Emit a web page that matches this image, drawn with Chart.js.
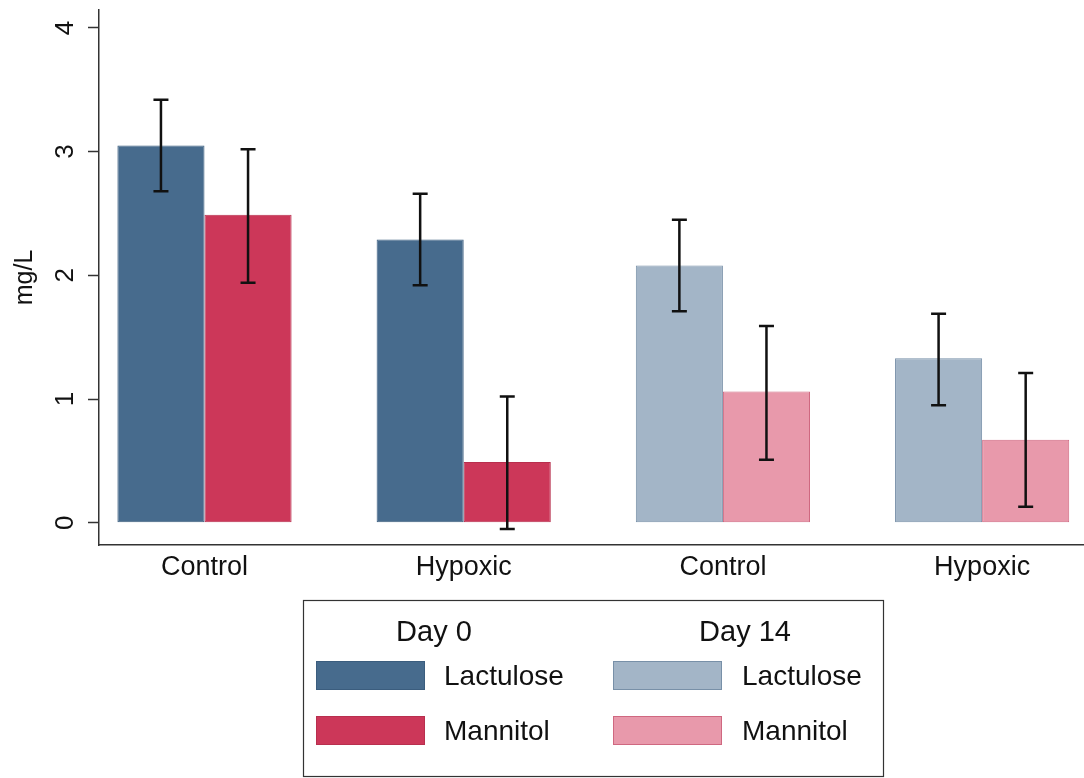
<!DOCTYPE html>
<html>
<head>
<meta charset="utf-8">
<script src="https://cdn.jsdelivr.net/npm/chart.js@4.4.1/dist/chart.umd.min.js"></script>
<style>
  html, body { margin: 0; padding: 0; background: #ffffff; }
  #wrap { width: 1084px; height: 778px; position: relative; }
</style>
</head>
<body>
<div id="wrap"><canvas id="c" width="1084" height="778"></canvas></div>
<script>
// ---- data ----
const categories = ['Control', 'Hypoxic', 'Control', 'Hypoxic'];
const groupDay = ['Day 0', 'Day 0', 'Day 14', 'Day 14'];
const seriesNames = ['Lactulose', 'Mannitol'];
const lactulose = [3.05, 2.29, 2.08, 1.33];
const lactuloseLow = [2.68, 1.92, 1.71, 0.95];
const lactuloseHigh = [3.42, 2.66, 2.45, 1.69];
const mannitol = [2.49, 0.49, 1.06, 0.67];
const mannitolLow = [1.94, -0.05, 0.51, 0.13];
const mannitolHigh = [3.02, 1.02, 1.59, 1.21];
const yTicks = [0, 1, 2, 3, 4];
const legendDays = ['Day 0', 'Day 14'];

// ---- styles ----
const FONT = '"Liberation Sans", Arial, Helvetica, sans-serif';
const palette = {
  'Day 0':  { Lactulose: ['#476b8d', '#3b5d7e'], Mannitol: ['#cc3759', '#b82f4e'] },
  'Day 14': { Lactulose: ['#a3b5c7', '#7890a8'], Mannitol: ['#e899ab', '#cf6880'] }
};

function makeDataset(name, values, lows, highs) {
  return {
    label: name,
    data: values.map((v, i) => ({ x: i, y: v })),
    lows: lows,
    highs: highs,
    backgroundColor: values.map((v, i) => palette[groupDay[i]][name][0]),
    borderColor: values.map((v, i) => palette[groupDay[i]][name][1]),
    borderWidth: 1,
    borderSkipped: false,
    categoryPercentage: 0.672,
    barPercentage: 1.0
  };
}

const errorBars = {
  id: 'errorBars',
  afterDatasetsDraw(chart) {
    const ctx = chart.ctx;
    const ys = chart.scales.y;
    ctx.save();
    ctx.strokeStyle = '#111';
    ctx.lineWidth = 2.5;
    chart.data.datasets.forEach((ds, di) => {
      const meta = chart.getDatasetMeta(di);
      meta.data.forEach((bar, i) => {
        const x = bar.x;
        const yl = ys.getPixelForValue(ds.lows[i]);
        const yh = ys.getPixelForValue(ds.highs[i]);
        const cap = 7.5;
        ctx.beginPath();
        ctx.moveTo(x, yl); ctx.lineTo(x, yh);
        ctx.moveTo(x - cap, yl); ctx.lineTo(x + cap, yl);
        ctx.moveTo(x - cap, yh); ctx.lineTo(x + cap, yh);
        ctx.stroke();
      });
    });
    ctx.restore();
  }
};

const customLegend = {
  id: 'customLegend',
  afterDraw(chart) {
    const ctx = chart.ctx;
    ctx.save();
    ctx.strokeStyle = '#333';
    ctx.lineWidth = 1.2;
    ctx.strokeRect(303.5, 600.5, 580, 176);
    const cols = [{ sw: 316, tx: 444, head: 434 }, { sw: 613, tx: 742, head: 745 }];
    const rows = [661, 716];
    ctx.font = '28px ' + FONT;
    ctx.textBaseline = 'middle';
    legendDays.forEach((day, ci) => {
      const c = cols[ci];
      ctx.textAlign = 'center';
      ctx.fillStyle = '#111';
      ctx.font = '29px ' + FONT;
      ctx.fillText(day, c.head, 633);
      ctx.font = '28px ' + FONT;
      seriesNames.forEach((name, ri) => {
        const col = palette[day][name];
        ctx.fillStyle = col[0];
        ctx.fillRect(c.sw, rows[ri], 109, 29);
        ctx.strokeStyle = col[1];
        ctx.lineWidth = 1;
        ctx.strokeRect(c.sw + 0.5, rows[ri] + 0.5, 108, 28);
        ctx.fillStyle = '#111';
        ctx.textAlign = 'left';
        ctx.fillText(name, c.tx, rows[ri] + 16);
      });
    });
    ctx.restore();
  }
};

new Chart(document.getElementById('c'), {
  type: 'bar',
  data: {
    datasets: [
      makeDataset('Lactulose', lactulose, lactuloseLow, lactuloseHigh),
      makeDataset('Mannitol', mannitol, mannitolLow, mannitolHigh)
    ]
  },
  options: {
    responsive: false,
    animation: false,
    layout: { padding: { top: 10, left: 0, right: 0, bottom: 0 } },
    plugins: { legend: { display: false }, tooltip: { enabled: false } },
    scales: {
      x: {
        type: 'linear',
        offset: false,
        min: -0.407,
        max: 3.393,
        grid: { display: false, drawTicks: false, offset: false },
        border: { display: true, color: '#333', width: 1.5 },
        afterBuildTicks(scale) { scale.ticks = categories.map((c, i) => ({ value: i })); },
        afterFit(scale) {
          scale.height = 233;
          scale.paddingLeft = 0; scale.paddingRight = 0;
        },
        ticks: {
          autoSkip: false,
          maxRotation: 0,
          padding: 6,
          color: '#111',
          font: { family: FONT, size: 27 },
          callback: (v) => categories[v]
        }
      },
      y: {
        min: -0.18,
        max: 4.145,
        afterBuildTicks(scale) { scale.ticks = yTicks.map(v => ({ value: v })); },
        afterFit(scale) {
          scale.width = 99;
          scale.paddingTop = 0; scale.paddingBottom = 0;
        },
        grid: { display: true, drawOnChartArea: false, drawTicks: true, tickLength: 11, tickColor: '#333', tickWidth: 1.5 },
        border: { display: true, color: '#333', width: 1.5 },
        title: { display: true, text: 'mg/L', color: '#111', font: { family: FONT, size: 25 }, padding: { top: 10, bottom: 0 } },
        ticks: {
          minRotation: 90,
          maxRotation: 90,
          crossAlign: 'center',
          padding: 15,
          color: '#111',
          font: { family: FONT, size: 26 },
          callback: (v) => String(v)
        }
      }
    }
  },
  plugins: [errorBars, customLegend]
});
</script>
</body>
</html>
